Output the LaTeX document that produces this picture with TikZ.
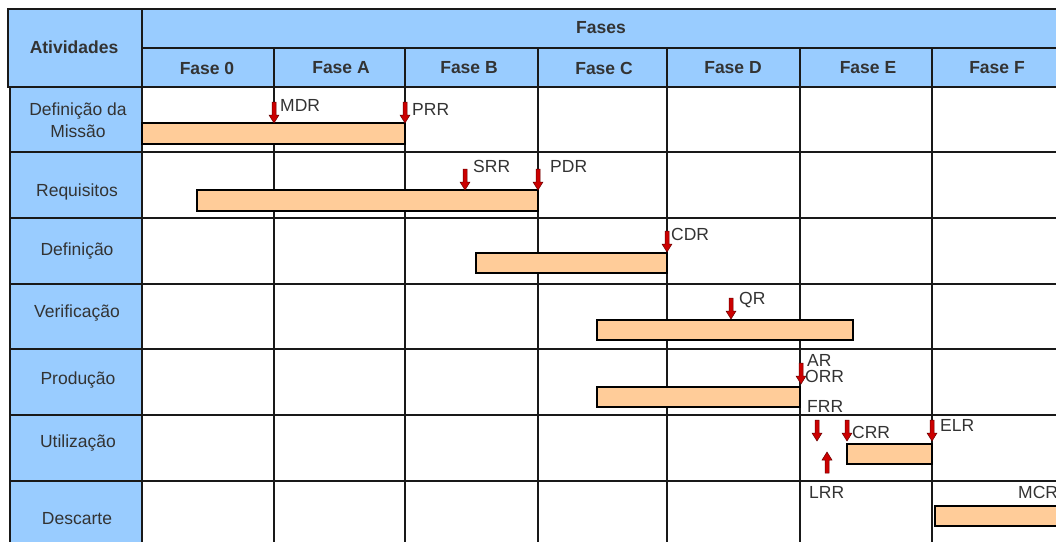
\documentclass[tikz,border=0pt]{standalone}
\usepackage{fontspec}
\setmainfont{Liberation Sans}
\definecolor{hdr}{HTML}{99CCFF}
\definecolor{barc}{HTML}{FFCC99}
\definecolor{arr}{HTML}{CC0000}
\definecolor{txt}{HTML}{333333}
\begin{document}
\begin{tikzpicture}[x=1pt,y=-1pt,
  gridline/.style={line width=1.6pt, draw=black!90},
  lbl/.style={font=\fontsize{17.5}{19}\selectfont, text=txt, inner sep=0pt, anchor=base west},
  hd/.style={font=\bfseries\fontsize{17.5}{19}\selectfont, text=txt, inner sep=0pt},
  act/.style={font=\fontsize{17.5}{22}\selectfont, text=txt, inner sep=0pt, align=center, anchor=base},
  barbox/.style={fill=barc, draw=black, line width=1.4pt},
  darr/.pic={\fill[arr, draw=red!40!black, line width=0.5pt] (-2,-21) -- (2,-21) -- (2,-8) -- (5,-8) -- (0,0) -- (-5,-8) -- (-2,-8) -- cycle;}
]
\useasboundingbox (0,0) rectangle (1056,542);
% backgrounds
\fill[hdr] (8,9) rectangle (1056,87);
\fill[hdr] (10,87) rectangle (142,542);
% header lines
\draw[gridline] (1056,9) -- (8,9) -- (8,87) -- (1056,87);
\draw[gridline] (142,9) -- (142,87);
\draw[gridline] (142,48) -- (1056,48);
\foreach \x in {274,405,538,667,800,932} \draw[gridline] (\x,48) -- (\x,87);
% body grid
\draw[gridline] (10,87) -- (10,542);
\foreach \x in {142,274,405,538,667,800,932} \draw[gridline] (\x,87) -- (\x,542);
\foreach \y in {152,218,284,349,415,481} \draw[gridline] (10,\y) -- (1056,\y);
% bars
\draw[barbox] (142,123) rectangle (405,144);
\draw[barbox] (197,190) rectangle (538,211);
\draw[barbox] (476,253) rectangle (667,273);
\draw[barbox] (597,320) rectangle (853,340);
\draw[barbox] (597,387) rectangle (800,407);
\draw[barbox] (847,444) rectangle (932,464);
\draw[barbox] (935,506) rectangle (1060,526);
% milestone arrows
\pic at (274,123) {darr};
\pic at (405,123) {darr};
\pic at (465,190) {darr};
\pic at (538,190) {darr};
\pic at (667,252) {darr};
\pic at (731,319) {darr};
\pic at (801,384) {darr};
\pic at (817,441) {darr};
\pic at (847,441) {darr};
\pic at (932,441) {darr};
\pic[rotate=180] at (827,452) {darr};
% header text
\node[hd] (atv) at (74,47) {Atividades};
\node[hd] (fases) at (601,28) {Fases};
\node[hd] (f0) at (207,68) {Fase 0};
\node[hd] (fa) at (341,68) {Fase A};
\node[hd] (fb) at (469,68) {Fase B};
\node[hd] (fc) at (604,68) {Fase C};
\node[hd] (fd) at (733,68) {Fase D};
\node[hd] (fe) at (868,68) {Fase E};
\node[hd] (ff) at (997,68) {Fase F};
% activity labels
\node[act] (a1) at (78,137) {Definição da\\Missão};
\node[act] (a2) at (77,196) {Requisitos};
\node[act] (a3) at (77,255) {Definição};
\node[act] (a4) at (77,317) {Verificação};
\node[act] (a5) at (78,384) {Produção};
\node[act] (a6) at (78,447) {Utilização};
\node[act] (a7) at (77,524) {Descarte};
% milestone labels
\node[lbl] (mdr) at (280,111) {MDR};
\node[lbl] (prr) at (412,115) {PRR};
\node[lbl] (srr) at (473,172) {SRR};
\node[lbl] (pdr) at (550,172) {PDR};
\node[lbl] (cdr) at (671,240) {CDR};
\node[lbl] (qr) at (739,304) {QR};
\node[lbl] (ar) at (807,366) {AR};
\node[lbl] (orr) at (805,382) {ORR};
\node[lbl] (frr) at (807,412) {FRR};
\node[lbl] (crr) at (852,438) {CRR};
\node[lbl] (elr) at (940,431) {ELR};
\node[lbl] (lrr) at (809,498) {LRR};
\node[lbl] (mcr) at (1018,498) {MCR};
\end{tikzpicture}
\end{document}
